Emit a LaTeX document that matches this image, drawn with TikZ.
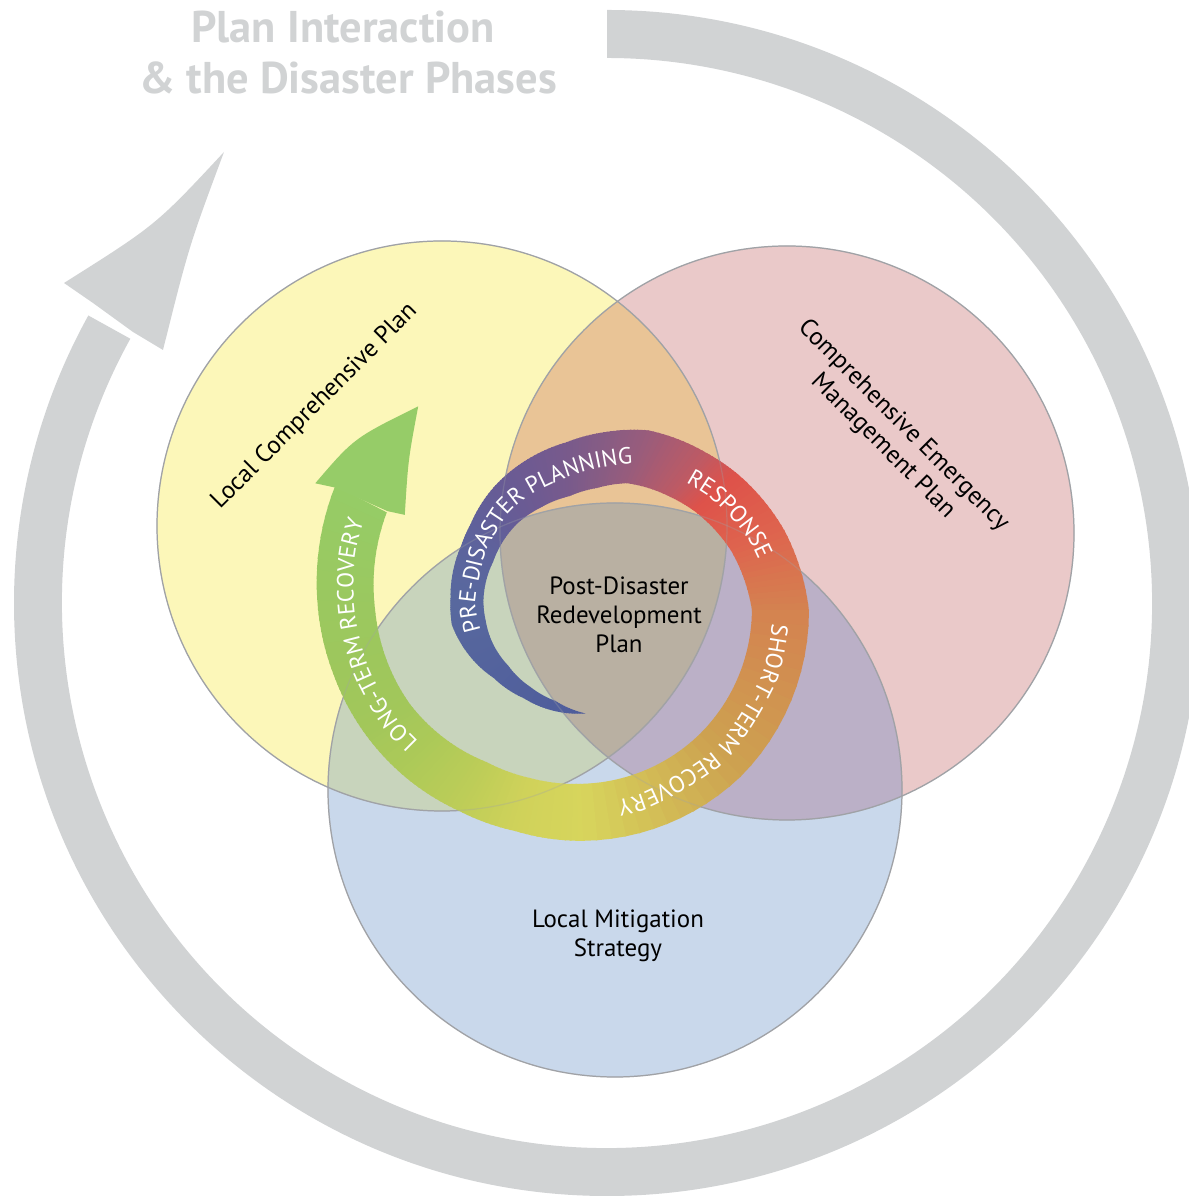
\documentclass[tikz,border=0pt]{standalone}
\usepackage{fontspec}
\setmainfont{PT Sans}
\usetikzlibrary{decorations.text}

\definecolor{phasegray}{RGB}{209,211,212}
\definecolor{vennline}{RGB}{160,162,166}
\definecolor{lcpfill}{RGB}{252,247,185}
\definecolor{cempfill}{RGB}{234,201,201}
\definecolor{lmsfill}{RGB}{201,216,235}
\definecolor{lcpcemp}{RGB}{233,196,150}
\definecolor{lcplms}{RGB}{200,212,188}
\definecolor{cemplms}{RGB}{187,176,199}
\definecolor{allthree}{RGB}{185,176,162}
\definecolor{headgreen}{RGB}{150,204,104}
% colours along the spiral
\definecolor{sp1}{RGB}{78,92,155}
\definecolor{sp2}{RGB}{79,94,156}
\definecolor{sp3}{RGB}{81,96,156}
\definecolor{sp4}{RGB}{83,98,157}
\definecolor{sp5}{RGB}{85,101,157}
\definecolor{sp6}{RGB}{87,103,158}
\definecolor{sp7}{RGB}{88,104,158}
\definecolor{sp8}{RGB}{92,100,157}
\definecolor{sp9}{RGB}{95,97,155}
\definecolor{sp10}{RGB}{102,92,150}
\definecolor{sp11}{RGB}{110,90,146}
\definecolor{sp12}{RGB}{120,90,140}
\definecolor{sp13}{RGB}{135,92,132}
\definecolor{sp14}{RGB}{152,92,124}
\definecolor{sp15}{RGB}{190,90,100}
\definecolor{sp16}{RGB}{222,82,74}
\definecolor{sp17}{RGB}{222,100,78}
\definecolor{sp18}{RGB}{212,130,80}
\definecolor{sp19}{RGB}{205,162,80}
\definecolor{sp20}{RGB}{215,213,92}
\definecolor{sp21}{RGB}{208,210,90}
\definecolor{sp22}{RGB}{190,205,88}
\definecolor{sp23}{RGB}{175,202,88}
\definecolor{sp24}{RGB}{163,199,90}
\definecolor{sp25}{RGB}{158,199,92}
\definecolor{sp26}{RGB}{155,200,95}
\definecolor{sp27}{RGB}{150,204,102}

\newcommand\vennfont{\fontsize{14.2}{16.5}\selectfont}
\newcommand\phasefont{\fontsize{13.3}{15}\selectfont}
\newcommand\headfont{\fontsize{25.3}{29}\selectfont\bfseries}

\tikzset{
  vennedge/.style={draw=vennline, line width=0.7pt},
  vennlabel/.style={font=\vennfont, text=black, align=center, inner sep=0pt},
  headline/.style={font=\headfont, text=phasegray, inner sep=0pt, anchor=base},
  phasetext/.style={decorate, decoration={text along path, text align=left,
    text color=white, text={|\phasefont|#1}}}
}

\begin{document}
\begin{tikzpicture}[x=0.02cm, y=0.02cm]
\useasboundingbox (0,0) rectangle (1188,1196);

%%% outer cycle of the phases
\begin{scope}[shift={(607,593)}]
  \fill[phasegray] (90:593) arc[start angle=90, end angle=-209, radius=593]
    -- (-209:545) arc[start angle=-209, end angle=90, radius=545] -- cycle;
\end{scope}
\fill[phasegray] (93,893) -- (64,913) .. controls (156,971) .. (224,1044)
  .. controls (189,950) .. (163,846) -- (133,864) -- cycle;

\node[headline] (titletop) at (343,1153) {Plan Interaction};
\node[headline] (titlebot) at (348,1102) {\& the Disaster Phases};

%%% the three plans
\coordinate (lcpc) at (442,670);
\coordinate (cempc) at (787,663);
\coordinate (lmsc) at (615,406);

\fill[lcpfill] (lcpc) circle[radius=285];
\fill[cempfill] (cempc) circle[radius=287];
\fill[lmsfill] (lmsc) circle[radius=287];
\begin{scope}
  \clip (cempc) circle[radius=287];
  \fill[cemplms] (lmsc) circle[radius=287];
\end{scope}
\begin{scope}
  \clip (lcpc) circle[radius=285];
  \fill[lcpcemp] (cempc) circle[radius=287];
  \fill[lcplms] (lmsc) circle[radius=287];
  \clip (cempc) circle[radius=287];
  \fill[allthree] (lmsc) circle[radius=287];
\end{scope}
\draw[vennedge] (lcpc) circle[radius=285];
\draw[vennedge] (cempc) circle[radius=287];
\draw[vennedge] (lmsc) circle[radius=287];

%%% spiral of the disaster phases
\begin{scope}[shift={(575,586)}]
  \foreach \t/\o/\i/\c [remember=\t as \lt (initially 276),
      remember=\o as \lo (initially 104), remember=\i as \li (initially 104),
      remember=\c as \lc (initially sp1)] in
    {258/103/93/sp2, 240/102/89/sp3, 220/106/87/sp4, 200/117/89/sp5,
     187/124/90/sp6, 175/125/92/sp7, 150/131/95/sp8, 141/135/98/sp9,
     124/147/104/sp10, 109/157/108/sp11, 93/168/114/sp12, 80/181/124/sp13,
     68/194/137/sp14, 50/205/148/sp15, 40/212/155/sp16, 21/224/167/sp17,
     0/234/177/sp18, -45/235/176/sp19, -88/231/174/sp20, -105/229/174/sp21,
     -120/232/176/sp22, -135/238/183/sp23, -150/244/190/sp24,
     -165/250/195/sp25, -180/257/200/sp26, -207/270/212/sp27} {
    \foreach \k in {0,...,11} {
      \pgfmathsetmacro\tA{\lt+((\t)-(\lt))*\k/12}
      \pgfmathsetmacro\tB{\lt+((\t)-(\lt))*(\k+1)/12-0.4}
      \pgfmathsetmacro\oA{\lo+((\o)-(\lo))*\k/12}
      \pgfmathsetmacro\oB{\lo+((\o)-(\lo))*(\k+1)/12}
      \pgfmathsetmacro\iA{\li+((\i)-(\li))*\k/12}
      \pgfmathsetmacro\iB{\li+((\i)-(\li))*(\k+1)/12}
      \pgfmathtruncatemacro\pc{100-(2*\k+1)*100/24}
      \fill[\lc!\pc!\c] (\tA:\oA) -- (\tB:\oB) -- (\tB:\iB) -- (\tA:\iA) -- cycle;
    }
  }
  % arrow head of long-term recovery
  \fill[headgreen] (-207:270) -- (-206:289) .. controls (-217.9:280) .. (-232.4:257)
    .. controls (-222:224.5) .. (-209.2:195) -- (-207.8:212) -- cycle;
\end{scope}

% plan borders seen through the spiral
\draw[vennedge, opacity=0.3] (lcpc) circle[radius=285];
\draw[vennedge, opacity=0.3] (cempc) circle[radius=287];
\draw[vennedge, opacity=0.3] (lmsc) circle[radius=287];

\begin{scope}[shift={(575,586)}]
  \path[phasetext={PRE-DISASTER PLANNING}] plot[smooth] coordinates
    {(192:96.5) (175:100) (150:105) (141:108.5) (124:117.5) (109:124) (93:133)
     (80:144) (68:157) (55:165) (40:175) (25:185)};
  \path[phasetext={RESPONSE}] plot[smooth] coordinates
    {(49:169) (40:175.5) (30:181.5) (21:187.5) (10:193) (0:197.5) (-15:198)
     (-30:198)};
  \path[phasetext={SHORT-TERM RECOVERY}] plot[smooth] coordinates
    {(-4:197.5) (-20:197.5) (-45:197) (-70:195) (-88:194.5) (-105:193.5)
     (-120:196) (-135:202)};
  \path[phasetext={LONG-TERM RECOVERY}] plot[smooth] coordinates
    {(-140:204.5) (-150:209) (-165:214.5) (-180:220.5) (-195:227) (-210:232)
     (-222:238) (-235:244)};
\end{scope}

%%% labels
\node[vennlabel, rotate=45, anchor=base] (lcplabel) at (319,785) {Local Comprehensive Plan};
\node[vennlabel, rotate=-45] (cemplabel) at (893,760) {Comprehensive Emergency\\Management Plan};
\node[vennlabel] (lmslabel) at (618,260) {Local Mitigation\\Strategy};
\node[vennlabel] (pdrplabel) at (619,581) {Post-Disaster\\Redevelopment\\Plan};

\end{tikzpicture}
\end{document}
